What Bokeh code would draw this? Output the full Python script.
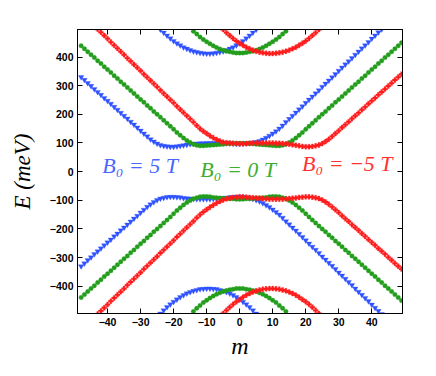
import numpy as np
from bokeh.plotting import figure
from bokeh.models import Range1d, LinearAxis, FixedTicker, Label, CustomJSTickFormatter
from bokeh.embed import file_html
from bokeh.resources import INLINE

# ---------------- data ----------------
m = list(range(-48, 50))   # integer quantum number m

# B0 = 0 T (green)
green_up = [439, 429, 418, 408, 398, 387, 377, 366, 356, 346, 335, 325, 314, 304, 294, 283,
            273, 262, 252, 242, 231, 221, 210, 200, 190, 179, 169, 158, 148, 137, 127, 117,
            109, 102, 96, 92, 90, 90, 91, 92, 93, 94, 95, 96, 97, 98, 98, 99,
            99,
            99, 98, 98, 97, 96, 95, 94, 93, 92, 91, 90, 90, 92, 96, 102, 109, 117, 127, 137,
            148, 158, 169, 179, 190, 200, 210, 221, 231, 242, 252, 262, 273, 283, 294, 304,
            314, 325, 335, 346, 356, 366, 377, 387, 398, 408, 418, 429, 439, 450]
green_dn = [-439, -429, -418, -408, -398, -387, -377, -366, -356, -346, -335, -325, -314, -304,
            -294, -283, -273, -262, -252, -242, -231, -221, -210, -200, -190, -179, -169, -158,
            -147, -136, -126, -116, -108, -101, -95, -91, -88, -87, -87, -88, -90, -91, -92,
            -93, -94, -95, -95, -96,
            -96,
            -96, -95, -95, -94, -93, -92, -91, -90, -88, -87, -87, -88, -91, -95, -101, -108,
            -116, -126, -136, -147, -158, -169, -179, -190, -200, -210, -221, -231, -242, -252,
            -262, -273, -283, -294, -304, -314, -325, -335, -346, -356, -366, -377, -387, -398,
            -408, -418, -429, -439, -450]
m_green_outer = list(range(-14, 15))
green_up_outer = [490, 480, 470, 461, 453, 446, 439, 433, 428, 424, 420, 418, 416, 414,
                  414,
                  414, 416, 418, 420, 424, 428, 433, 439, 446, 453, 461, 470, 480, 490]
green_dn_outer = [-488, -477, -467, -457, -449, -441, -434, -428, -423, -418, -415, -412, -410,
                  -408, -408,
                  -408, -410, -412, -415, -418, -423, -428, -434, -441, -449, -457, -467, -477,
                  -488]

# B0 = 5 T (blue)
blue_up = [330, 320, 309, 299, 288, 278, 268, 257, 247, 237, 226, 216, 205, 195, 185, 174,
           164, 154, 143, 133, 123, 113, 105, 98, 93, 90, 88, 87, 87, 88, 90, 92,
           94, 96, 97, 98, 99, 99, 100, 100, 100, 100, 100, 100, 100, 99, 98, 97,
           97,
           98, 99, 100, 101, 103, 107, 112, 118, 125, 133, 141, 150, 161, 173, 184, 195,
           206, 217, 228, 240, 251, 262, 273, 284, 296, 307, 318, 329, 340, 352, 363, 374,
           385, 396, 408, 419, 430, 441, 452, 464, 475, 486, 497,
           None, None, None, None, None, None]
blue_dn = [-330, -320, -309, -299, -288, -278, -268, -257, -247, -237, -226, -216, -205, -195,
           -185, -174, -164, -154, -143, -133, -123, -114, -106, -99, -94, -91, -89, -88, -88,
           -89, -90, -92, -93, -94, -95, -96, -96, -96, -96, -96, -95, -94, -93, -92, -91,
           -90, -89, -88,
           -88,
           -89, -90, -92, -95, -99, -104, -110, -117, -124, -132, -141, -150, -161, -173,
           -184, -195, -206, -217, -228, -240, -251, -262, -273, -284, -296, -307, -318, -329,
           -340, -352, -363, -374, -385, -396, -408, -419, -430, -441, -452, -464, -475, -486,
           -497, None, None, None, None, None, None]
m_blue_outer = list(range(-24, 6))
blue_up_outer = [496, 485, 475, 465, 456, 448, 441, 434, 429, 424, 420, 417, 415, 413, 412,
                 412, 413, 415, 417, 420, 424, 429, 434, 441, 448, 456, 465, 475, 485, 496]
blue_dn_outer = [-495, -484, -473, -463, -454, -446, -438, -431, -425, -420, -416, -413, -410,
                 -409, -408, -408, -409, -410, -413, -416, -420, -425, -431, -438, -446, -454,
                 -463, -473, -484, -495]

# B0 = -5 T (red)
red_up = [None, None, None, None, None,
          497, 486, 475, 464, 452, 441, 430, 419, 408, 396, 385, 374, 363, 352, 340, 329,
          318, 307, 296, 284, 273, 262, 251, 240, 228, 217, 206, 195, 184, 173, 161, 150,
          141, 133, 125, 118, 112, 107, 103, 101, 100, 99, 98,
          97,
          97, 98, 99, 100, 100, 100, 100, 100, 100, 100, 99, 99, 98, 97, 96, 94, 92, 90, 88,
          87, 87, 88, 90, 93, 98, 105, 113, 123, 133, 143, 154, 164, 174, 185, 195, 205, 216,
          226, 237, 247, 257, 268, 278, 288, 299, 309, 320, 330, 340]
red_dn = [None, None, None, None, None,
          -497, -486, -475, -464, -452, -441, -430, -419, -408, -396, -385, -374, -363, -352,
          -340, -329, -318, -307, -296, -284, -273, -262, -251, -240, -228, -217, -206, -195,
          -184, -173, -161, -150, -141, -132, -124, -117, -110, -104, -99, -95, -92, -90, -89,
          -88,
          -88, -89, -90, -91, -92, -93, -94, -95, -96, -96, -96, -96, -96, -95, -94, -93, -92,
          -90, -89, -88, -88, -89, -91, -94, -99, -106, -114, -123, -133, -143, -154, -164,
          -174, -185, -195, -205, -216, -226, -237, -247, -257, -268, -278, -288, -299, -309,
          -320, -330, -340]
m_red_outer = list(range(-5, 25))
red_up_outer = [496, 485, 475, 465, 456, 448, 441, 434, 429, 424, 420, 417, 415, 413, 412,
                412, 413, 415, 417, 420, 424, 429, 434, 441, 448, 456, 465, 475, 485, 496]
red_dn_outer = [-495, -484, -473, -463, -454, -446, -438, -431, -425, -420, -416, -413, -410,
                -409, -408, -408, -409, -410, -413, -416, -420, -425, -431, -438, -446, -454,
                -463, -473, -484, -495]

series_labels = ["B₀ = 5 T", "B₀ = 0 T", "B₀ = −5 T"]

x_ticks = [-40, -30, -20, -10, 0, 10, 20, 30, 40]
x_tick_labels = ["−40", "−30", "−20", "−10", "0", "10", "20", "30", "40"]
y_ticks = [-400, -300, -200, -100, 0, 100, 200, 300, 400]
y_tick_labels = ["−400", "−300", "−200", "−100", "0", "100", "200", "300", "400"]

# ---------------- styling ----------------
BLUE = "#2f52ff"
GREEN = "#229e1c"
RED = "#ff1c1c"
BLUE_T = "#4a66ff"
GREEN_T = "#3cae2c"
RED_T = "#ff3030"

p = figure(width=436, height=376, output_backend="svg", toolbar_location=None,
           x_range=Range1d(-49.1, 49.3), y_range=Range1d(-495, 496),
           min_border_left=77, min_border_right=34, min_border_top=29, min_border_bottom=63,
           x_axis_label="m", y_axis_label="E (meV)")
p.grid.visible = False
p.outline_line_color = "black"
p.outline_line_width = 1
p.background_fill_color = "white"
p.border_fill_color = "white"


def style_axis(ax, ticks):
    ax.ticker = FixedTicker(ticks=ticks)
    ax.major_tick_in = 5
    ax.major_tick_out = 0
    ax.minor_tick_line_color = None
    ax.axis_line_color = "black"
    ax.major_tick_line_color = "black"
    ax.major_label_text_font = "Liberation Sans"
    ax.major_label_text_font_style = "bold"
    ax.major_label_text_font_size = "10.5px"
    ax.major_label_text_color = "black"
    ax.major_label_standoff = 4


style_axis(p.xaxis[0], x_ticks)
style_axis(p.yaxis[0], y_ticks)
p.xaxis[0].major_label_overrides = {t: s for t, s in zip(x_ticks, x_tick_labels)}
p.yaxis[0].major_label_overrides = {t: s for t, s in zip(y_ticks, y_tick_labels)}
for ax, size, standoff in ((p.xaxis[0], "24px", 4), (p.yaxis[0], "23px", 12)):
    ax.axis_label_text_font = "Liberation Serif"
    ax.axis_label_text_font_style = "italic"
    ax.axis_label_text_font_size = size
    ax.axis_label_text_color = "black"
    ax.axis_label_standoff = standoff

blank = CustomJSTickFormatter(code="return ''")
top_ax = LinearAxis(formatter=blank)
right_ax = LinearAxis(formatter=blank)
style_axis(top_ax, x_ticks)
style_axis(right_ax, y_ticks)
top_ax.major_label_standoff = 0
right_ax.major_label_standoff = 0
p.add_layout(top_ax, "above")
p.add_layout(right_ax, "right")


def arr(v):
    return np.array([np.nan if a is None else a for a in v], dtype=float)


groups = [
    (BLUE, "inverted_triangle", 5.5, [(m, blue_up), (m, blue_dn),
                                      (m_blue_outer, blue_up_outer), (m_blue_outer, blue_dn_outer)]),
    (GREEN, "circle", 4.5, [(m, green_up), (m, green_dn),
                            (m_green_outer, green_up_outer), (m_green_outer, green_dn_outer)]),
    (RED, "plus", 5, [(m, red_up), (m, red_dn),
                      (m_red_outer, red_up_outer), (m_red_outer, red_dn_outer)]),
]
for color, marker, size, curves in groups:
    for xs, ys in curves:
        p.scatter(x=np.array(xs, dtype=float), y=arr(ys), marker=marker, size=size,
                  fill_color=color, line_color=color, line_width=0.3)

# series labels
label_pos = [(-41.6, 21, BLUE_T), (-11.9, 9, GREEN_T), (18.9, 27, RED_T)]
for text, (lx, ly, col) in zip(series_labels, label_pos):
    p.add_layout(Label(x=lx, y=ly, text=text, text_font="Liberation Serif",
                       text_font_style="italic", text_font_size="22px", text_color=col,
                       text_align="left", text_baseline="alphabetic"))

open("out.html", "w").write(file_html(p, INLINE))
